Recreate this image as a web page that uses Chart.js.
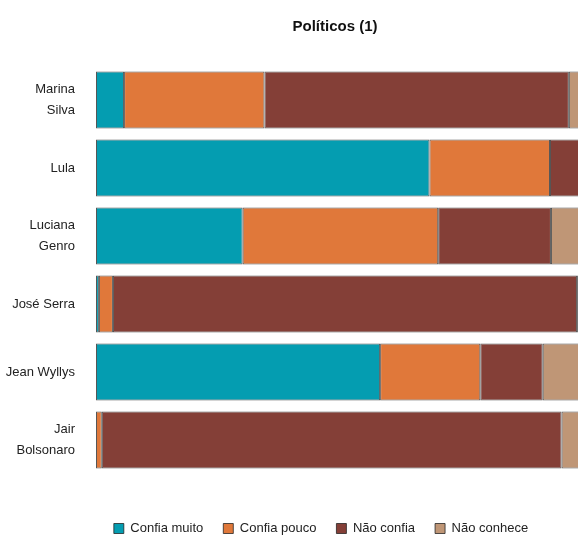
<!DOCTYPE html>
<html>
<head>
<meta charset="utf-8">
<script src="https://cdn.jsdelivr.net/npm/chart.js@4.4.1/dist/chart.umd.min.js"></script>
<style>
html,body{margin:0;padding:0;background:#fff;overflow:hidden;}
#wrap{width:580px;height:545px;}
</style>
</head>
<body>
<div id="wrap"><canvas id="c" width="580" height="545"></canvas></div>
<script>
const categories = [['Marina','Silva'], 'Lula', ['Luciana','Genro'], 'José Serra', 'Jean Wyllys', ['Jair','Bolsonaro']];
const seriesNames = ['Confia muito', 'Confia pouco', 'Não confia', 'Não conhece'];
const confiaMuito = [5.8, 68.9, 30.3, 0.6, 58.7, 0.0];
const confiaPouco = [29.0, 24.9, 40.4, 2.9, 20.7, 1.2];
const naoConfia   = [62.9, 6.2, 23.3, 95.9, 12.9, 95.0];
const naoConhece  = [2.3, 0.0, 6.0, 0.6, 7.7, 3.8];
const colors = ['#049DB1', '#E0783A', '#843F37', '#BF9676'];

const FONT = "'Liberation Sans', Arial, sans-serif";
const values = [confiaMuito, confiaPouco, naoConfia, naoConhece];

const shiftPlugin = {
  id: 'shiftBlocks',
  afterLayout(chart) {
    const t = chart.titleBlock;
    if (t) { t.left += 45; t.right += 45; }
    const l = chart.legend;
    if (l) { l.left += 31; l.right += 31; }
  }
};

new Chart(document.getElementById('c'), {
  type: 'bar',
  data: {
    labels: categories,
    datasets: seriesNames.map((name, i) => ({
      label: name,
      data: values[i],
      backgroundColor: colors[i],
      borderColor: 'rgba(30,30,30,0.75)',
      borderWidth: 1,
      borderSkipped: false,
      barPercentage: 0.84,
      categoryPercentage: 1.0
    }))
  },
  options: {
    indexAxis: 'y',
    responsive: false,
    animation: false,
    layout: { padding: 0 },
    scales: {
      x: {
        stacked: true, min: 0, max: 100,
        grid: { display: false }, border: { display: false },
        ticks: { display: false },
        afterFit(scale) { scale.height = 28; }
      },
      y: {
        stacked: true,
        grid: { display: false }, border: { display: false },
        ticks: { color: '#222', padding: 13, font: { family: FONT, size: 13, lineHeight: 1.6 } },
        afterFit(scale) { scale.width = 96; }
      }
    },
    plugins: {
      title: {
        display: true, text: 'Políticos (1)', color: '#111',
        font: { family: FONT, size: 15, weight: 'bold', lineHeight: 1.2 },
        padding: { top: 18, bottom: 30 }
      },
      legend: {
        position: 'bottom',
        labels: {
          color: '#222', boxWidth: 10, boxHeight: 10, padding: 20,
          font: { family: FONT, size: 13 }
        }
      },
      tooltip: { enabled: false }
    }
  },
  plugins: [shiftPlugin]
});
</script>
</body>
</html>
